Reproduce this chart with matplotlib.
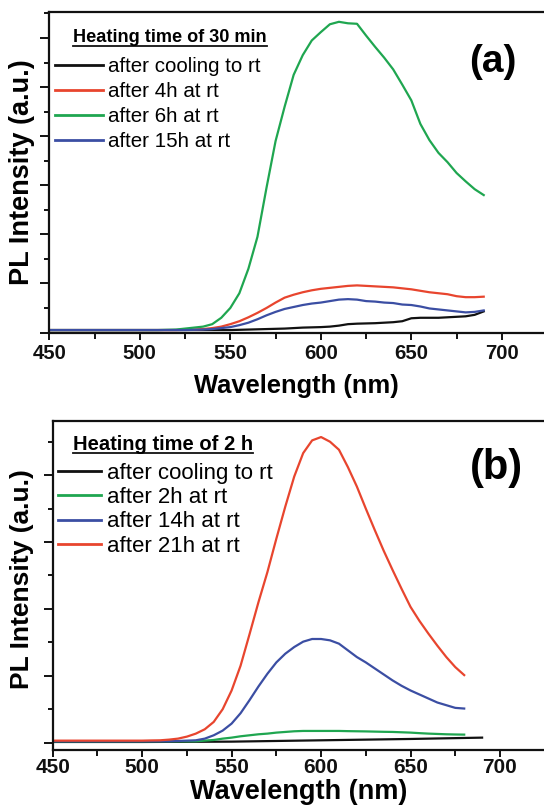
import matplotlib
matplotlib.use("Agg")
import matplotlib.pyplot as plt
from matplotlib.lines import Line2D
from matplotlib.ticker import MultipleLocator, NullFormatter

plt.rcParams['font.family'] = ['Liberation Sans', 'DejaVu Sans']

# ---------------- Panel (a): heating time 30 min ----------------
wl_a = [450, 460, 470, 480, 490, 500, 510, 515, 520, 525, 530, 535, 540, 545, 550,
        555, 560, 565, 570, 575, 580, 585, 590, 595, 600, 605, 610, 615, 620, 625,
        630, 635, 640, 645, 650, 655, 660, 665, 670, 675, 680, 685, 690]
a_cool = [0.05, 0.05, 0.05, 0.05, 0.05, 0.05, 0.05, 0.05, 0.05, 0.05, 0.05, 0.05, 0.05, 0.05, 0.05,
          0.055, 0.06, 0.065, 0.07, 0.075, 0.08, 0.09, 0.10, 0.105, 0.11, 0.12, 0.14, 0.17, 0.18, 0.185,
          0.19, 0.20, 0.21, 0.23, 0.29, 0.30, 0.30, 0.30, 0.31, 0.32, 0.33, 0.36, 0.43]
a_4h = [0.05, 0.05, 0.05, 0.05, 0.05, 0.05, 0.05, 0.05, 0.05, 0.055, 0.06, 0.07, 0.09, 0.12, 0.17,
        0.23, 0.31, 0.40, 0.50, 0.61, 0.71, 0.77, 0.82, 0.86, 0.89, 0.91, 0.93, 0.95, 0.96, 0.95,
        0.94, 0.93, 0.92, 0.90, 0.88, 0.85, 0.82, 0.80, 0.78, 0.74, 0.72, 0.72, 0.73]
a_6h = [0.05, 0.05, 0.05, 0.05, 0.05, 0.05, 0.05, 0.055, 0.06, 0.08, 0.10, 0.12, 0.17, 0.30, 0.50,
        0.80, 1.30, 1.95, 2.95, 3.90, 4.60, 5.25, 5.65, 5.95, 6.12, 6.28, 6.33, 6.30, 6.29, 6.05,
        5.82, 5.60, 5.36, 5.05, 4.73, 4.25, 3.92, 3.66, 3.47, 3.25, 3.08, 2.92, 2.80]
a_15h = [0.05, 0.05, 0.05, 0.05, 0.05, 0.05, 0.05, 0.05, 0.05, 0.05, 0.055, 0.06, 0.07, 0.09, 0.11,
         0.15, 0.20, 0.27, 0.35, 0.42, 0.48, 0.52, 0.56, 0.59, 0.61, 0.64, 0.67, 0.68, 0.67, 0.64,
         0.63, 0.61, 0.60, 0.57, 0.56, 0.53, 0.49, 0.47, 0.45, 0.43, 0.41, 0.42, 0.45]
labels_a = ['after cooling to rt', 'after 4h at rt', 'after 6h at rt', 'after 15h at rt']
title_a = 'Heating time of 30 min'

# ---------------- Panel (b): heating time 2 h ----------------
wl_b = [450, 460, 470, 480, 490, 500, 505, 510, 515, 520, 525, 530, 535, 540, 545, 550,
        555, 560, 565, 570, 575, 580, 585, 590, 595, 600, 605, 610, 615, 620, 625,
        630, 635, 640, 645, 650, 655, 660, 665, 670, 675, 680]
b_2h = [0.02, 0.02, 0.02, 0.02, 0.02, 0.02, 0.02, 0.02, 0.02, 0.02, 0.02, 0.02, 0.03, 0.04, 0.06, 0.075,
        0.095, 0.11, 0.125, 0.135, 0.15, 0.16, 0.17, 0.175, 0.175, 0.175, 0.175, 0.175, 0.172, 0.17, 0.168,
        0.165, 0.162, 0.16, 0.155, 0.15, 0.142, 0.135, 0.13, 0.125, 0.122, 0.12]
b_14h = [0.02, 0.02, 0.02, 0.02, 0.02, 0.02, 0.02, 0.02, 0.02, 0.025, 0.03, 0.035, 0.06, 0.11, 0.18, 0.285,
         0.44, 0.635, 0.84, 1.03, 1.20, 1.33, 1.43, 1.51, 1.55, 1.55, 1.53, 1.48, 1.38, 1.28, 1.20,
         1.11, 1.02, 0.93, 0.85, 0.78, 0.72, 0.66, 0.60, 0.56, 0.52, 0.51]
b_21h = [0.03, 0.03, 0.03, 0.03, 0.03, 0.03, 0.033, 0.035, 0.045, 0.06, 0.09, 0.135, 0.20, 0.31, 0.50, 0.78,
         1.15, 1.62, 2.10, 2.55, 3.05, 3.53, 3.98, 4.33, 4.52, 4.57, 4.50, 4.38, 4.12, 3.83, 3.50,
         3.18, 2.87, 2.58, 2.30, 2.03, 1.82, 1.63, 1.45, 1.28, 1.13, 1.01]
wl_b_cool = [450, 500, 550, 575, 600, 625, 650, 670, 690]
b_cool = [0.01, 0.01, 0.015, 0.025, 0.035, 0.045, 0.055, 0.065, 0.075]
labels_b = ['after cooling to rt', 'after 2h at rt', 'after 14h at rt', 'after 21h at rt']
title_b = 'Heating time of 2 h'

xticks = [450, 500, 550, 600, 650, 700]

BLACK = '#111111'
RED = '#e8452e'
GREEN = '#1fa650'
BLUE = '#3b4ea3'

W, H = 544, 806
fig = plt.figure(figsize=(W / 100, H / 100), dpi=100)


def px_rect(left, top, right, bottom):
    return [left / W, 1 - bottom / H, (right - left) / W, (bottom - top) / H]


def style_axes(ax, xlim, ylim, ymaj, tick_fs, tick_pad):
    ax.set_xlim(*xlim)
    ax.set_ylim(*ylim)
    ax.set_xticks(xticks)
    ax.xaxis.set_minor_locator(MultipleLocator(25))
    ax.yaxis.set_major_locator(MultipleLocator(ymaj))
    ax.yaxis.set_minor_locator(MultipleLocator(ymaj / 2))
    ax.yaxis.set_major_formatter(NullFormatter())
    ax.tick_params(axis='both', which='both', direction='out', width=1.4, colors='#111111')
    ax.tick_params(axis='x', which='major', length=5, pad=tick_pad, labelsize=tick_fs)
    ax.tick_params(axis='x', which='minor', length=4)
    ax.tick_params(axis='y', which='major', length=6.5)
    ax.tick_params(axis='y', which='minor', length=3.5)
    for lab in ax.get_xticklabels():
        lab.set_fontweight('bold')
    ax.spines['right'].set_visible(False)
    for s in ['left', 'bottom', 'top']:
        ax.spines[s].set_linewidth(1.6)
        ax.spines[s].set_color('#111111')


def add_legend(ax, labels, colors, anchor_px, fs, hl, ls):
    handles = [Line2D([0], [0], color=c, lw=2.0) for c in colors]
    leg = ax.legend(handles, labels, loc='upper left', frameon=False,
                    bbox_to_anchor=(anchor_px[0] / W, 1 - anchor_px[1] / H),
                    bbox_transform=fig.transFigure, fontsize=fs,
                    handlelength=hl, handletextpad=0.25, labelspacing=ls,
                    borderpad=0, borderaxespad=0)
    return leg


# ---- Panel (a)
axa = fig.add_axes(px_rect(49.3, 12, 544, 333))
axa.plot(wl_a, a_cool, color=BLACK, lw=1.6)
axa.plot(wl_a, a_4h, color=RED, lw=1.6)
axa.plot(wl_a, a_6h, color=GREEN, lw=1.6)
axa.plot(wl_a, a_15h, color=BLUE, lw=1.6)
style_axes(axa, (450, 723.3), (-0.01, 6.53), 1.0, 14.7, 3)
axa.set_xlabel('Wavelength (nm)', fontsize=18.4, fontweight='bold', labelpad=8)
axa.set_ylabel('PL Intensity (a.u.)', fontsize=19.5, fontweight='bold', va='center')
axa.yaxis.set_label_coords((22 - 49.3) / (544 - 49.3), 0.5 - (172 - 172.5) / 321)
add_legend(axa, labels_a, [BLACK, RED, GREEN, BLUE], (55, 57), 14.8, 2.35, 0.29)
fig.text(493 / W, 1 - 62 / H, '(a)', fontsize=28, fontweight='bold', ha='center', va='center')
ta = fig.text(73 / W, 1 - 38 / H, title_a, fontsize=13.1, fontweight='bold', ha='left', va='center')

# ---- Panel (b)
axb = fig.add_axes(px_rect(52.7, 421, 544, 750))
axb.plot(wl_b_cool, b_cool, color=BLACK, lw=1.6)
axb.plot(wl_b, b_2h, color=GREEN, lw=1.6)
axb.plot(wl_b, b_14h, color=BLUE, lw=1.6)
axb.plot(wl_b, b_21h, color=RED, lw=1.6)
style_axes(axb, (450, 724.6), (-0.11, 4.81), 1.0, 15, 1)
axb.set_xlabel('Wavelength (nm)', fontsize=19.5, fontweight='bold', labelpad=1.5)
axb.set_ylabel('PL Intensity (a.u.)', fontsize=19, fontweight='bold', va='center')
axb.yaxis.set_label_coords((22 - 52.7) / (544 - 52.7), (750 - 579) / 329)
add_legend(axb, labels_b, [BLACK, GREEN, BLUE, RED], (58, 463), 16, 1.95, 0.145)
fig.text(496 / W, 1 - 468 / H, '(b)', fontsize=30, fontweight='bold', ha='center', va='center')
tb = fig.text(73 / W, 1 - 444 / H, title_b, fontsize=14.5, fontweight='bold', ha='left', va='center')

# underline the legend titles
fig.canvas.draw()
for t in (ta, tb):
    bb = t.get_window_extent()
    y = bb.y0 + 1
    fig.add_artist(Line2D([bb.x0 / W, bb.x1 / W], [y / H, y / H], transform=fig.transFigure,
                          color='#111111', lw=1.3))

fig.savefig('out.png', dpi=100)
